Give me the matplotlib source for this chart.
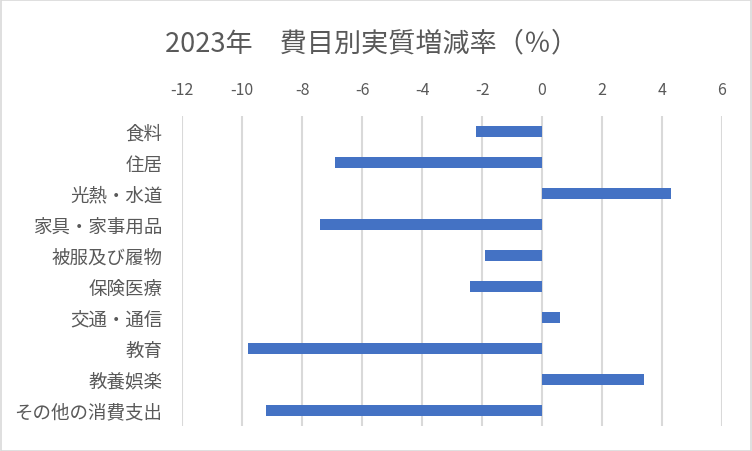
import matplotlib
matplotlib.use("Agg")
import matplotlib.pyplot as plt
from matplotlib.patches import Rectangle

plt.rcParams['font.family'] = ['Noto Sans CJK JP', 'DejaVu Sans']

categories = ["食料", "住居", "光熱・水道", "家具・家事用品", "被服及び履物",
              "保険医療", "交通・通信", "教育", "教養娯楽", "その他の消費支出"]
values = [-2.2, -6.9, 4.3, -7.4, -1.9, -2.4, 0.6, -9.8, 3.4, -9.2]
xticks = [-12, -10, -8, -6, -4, -2, 0, 2, 4, 6]
title = "2023年　費目別実質増減率（％）"

text_color = "#595959"
grid_color = "#D9D9D9"
bar_color = "#4472C4"

fig = plt.figure(figsize=(7.52, 4.52), dpi=100)
ax = fig.add_axes([182/752, 25/452, 540/752, 310/452])

y = list(range(len(categories)))
ax.barh(y, values, height=0.36, color=bar_color, zorder=3)

ax.set_xlim(-12, 6)
ax.set_ylim(len(categories) - 0.5, -0.5)
ax.set_xticks(xticks)
ax.set_xticklabels([str(t) for t in xticks])
ax.set_yticks(y)
ax.set_yticklabels(categories)

ax.xaxis.tick_top()
ax.tick_params(axis='x', length=0, pad=13, labelsize=11.5, labelcolor=text_color)
ax.tick_params(axis='y', length=0, pad=14, labelsize=13.3, labelcolor=text_color)
ax.grid(axis='x', color=grid_color, linewidth=1.5, zorder=0)
ax.grid(axis='y', visible=False)
for s in ax.spines.values():
    s.set_visible(False)

fig.text(372/752, 1 - 44/452, title, ha='center', va='center',
         fontsize=19.5, color=text_color)

fig.patches.append(Rectangle((0.0007, 0.001), 0.9986, 0.997, transform=fig.transFigure,
                             fill=False, edgecolor=grid_color, linewidth=1.2))

fig.savefig("out.png", dpi=100, facecolor="white")
